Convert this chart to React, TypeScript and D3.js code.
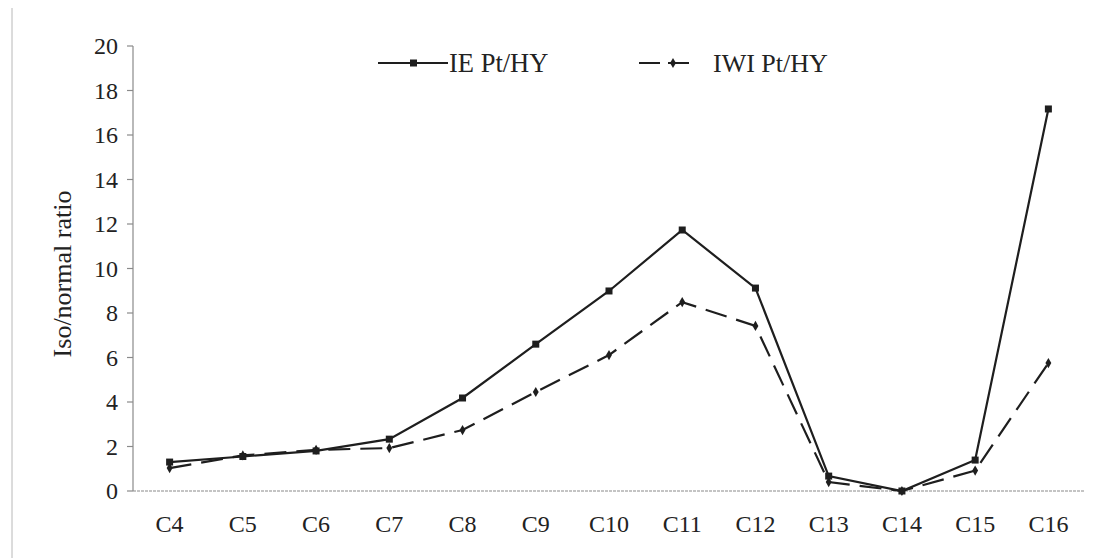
import React from "react";
import * as d3 from "d3";

// Carbon-number categories and iso/normal ratios for the two catalysts
const categories = ["C4", "C5", "C6", "C7", "C8", "C9", "C10", "C11", "C12", "C13", "C14", "C15", "C16"];
const ieValues = [1.3, 1.55, 1.8, 2.33, 4.18, 6.6, 8.99, 11.73, 9.12, 0.67, 0, 1.39, 17.17];
const iwiValues = [1.03, 1.6, 1.85, 1.93, 2.74, 4.45, 6.11, 8.49, 7.42, 0.4, 0, 0.92, 5.75];
const yTicks = [0, 2, 4, 6, 8, 10, 12, 14, 16, 18, 20];
const seriesNames = ["IE Pt/HY", "IWI Pt/HY"];

const W = 1102;
const H = 558;
const plot = { left: 133, right: 1085, top: 46, bottom: 491 };
const ink = "#1e1e1e";
const axisGrey = "#8a8a8a";
const font = "'Liberation Serif', 'Times New Roman', serif";

export default function App() {
  const x = d3.scaleBand<string>().domain(categories).range([plot.left, plot.right]).padding(0);
  const y = d3.scaleLinear().domain([0, 20]).range([plot.bottom, plot.top]);
  const cx = (c: string) => (x(c) as number) + x.bandwidth() / 2;

  const line = d3
    .line<number>()
    .x((_, i) => cx(categories[i]))
    .y((v) => y(v));

  const diamond = d3.symbol(d3.symbolDiamond, 30)() ?? "";

  return (
    <svg
      width={W}
      height={H}
      style={{ position: "absolute", left: 0, top: 0, background: "#fff" }}
      fontFamily={font}
    >
      <rect width={W} height={H} fill="#fff" />
      {/* page edge on the left */}
      <line x1={12} x2={12} y1={8} y2={H} stroke="#b8b8b8" strokeWidth={1} />

      {/* y axis */}
      <line x1={plot.left} x2={plot.left} y1={plot.top} y2={plot.bottom} stroke={axisGrey} strokeWidth={1.2} />
      {yTicks.map((t) => (
        <g key={t}>
          <line x1={plot.left - 6} x2={plot.left} y1={y(t)} y2={y(t)} stroke={axisGrey} strokeWidth={1.2} />
          <text x={plot.left - 15} y={y(t)} dy="0.35em" textAnchor="end" fontSize={24} fill="#222">
            {t}
          </text>
        </g>
      ))}
      <text
        transform={`translate(${71},${274}) rotate(-90)`}
        textAnchor="middle"
        fontSize={26}
        fill="#222"
      >
        Iso/normal ratio
      </text>

      {/* x axis */}
      <line x1={plot.left} x2={plot.right} y1={plot.bottom} y2={plot.bottom} stroke={axisGrey} strokeWidth={1.2} strokeDasharray="3 1" />
      {categories.map((c) => (
        <text key={c} x={cx(c)} y={532} textAnchor="middle" fontSize={24} fill="#222">
          {c}
        </text>
      ))}

      {/* IWI series: dashed with small diamond markers */}
      <path d={line(iwiValues) ?? ""} fill="none" stroke={ink} strokeWidth={2.2} strokeDasharray="22 10" />
      {iwiValues.map((v, i) => (
        <path key={"d" + i} d={diamond} transform={`translate(${cx(categories[i])},${y(v)})`} fill={ink} />
      ))}

      {/* IE series: solid with square markers */}
      <path d={line(ieValues) ?? ""} fill="none" stroke={ink} strokeWidth={2.2} />
      {ieValues.map((v, i) => (
        <rect
          key={"s" + i}
          x={cx(categories[i]) - 3.5}
          y={y(v) - 3.5}
          width={7}
          height={7}
          fill={ink}
        />
      ))}

      {/* legend */}
      <g>
        <line x1={378} x2={448} y1={63} y2={63} stroke={ink} strokeWidth={2.2} />
        <rect x={410} y={59.5} width={7} height={7} fill={ink} />
        <text x={449} y={72} fontSize={26.5} fill="#222">
          {seriesNames[0]}
        </text>
        <line x1={639} x2={693} y1={63} y2={63} stroke={ink} strokeWidth={2.2} strokeDasharray="21 8" />
        <path d={diamond} transform="translate(673,63)" fill={ink} />
        <text x={713} y={72} fontSize={26} fill="#222">
          {seriesNames[1]}
        </text>
      </g>
    </svg>
  );
}
